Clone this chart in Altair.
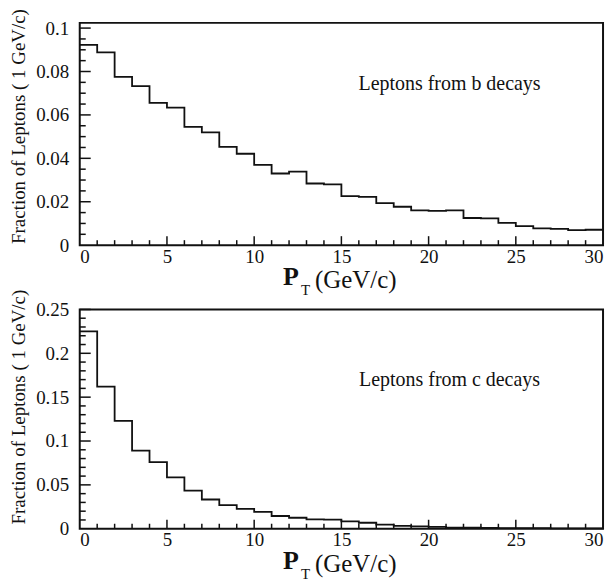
import altair as alt
import pandas as pd

# ---- data ----
pt_edges = list(range(0, 31))  # bin edges 0..30 GeV/c (1 GeV/c bins)

b_fraction = [0.0923, 0.0888, 0.0775, 0.0733, 0.0655, 0.0634, 0.0545, 0.0520,
              0.0453, 0.0421, 0.0370, 0.0330, 0.0339, 0.0284, 0.0280, 0.0226,
              0.0222, 0.0194, 0.0177, 0.0160, 0.0158, 0.0160, 0.0125, 0.0123,
              0.0103, 0.0088, 0.0077, 0.0075, 0.0069, 0.0071]

c_fraction = [0.225, 0.162, 0.123, 0.089, 0.076, 0.0586, 0.0435, 0.0333,
              0.0268, 0.0227, 0.0193, 0.0145, 0.0125, 0.0106, 0.0104, 0.0083,
              0.0068, 0.0047, 0.0033, 0.0026, 0.0022, 0.0013, 0.0011, 0.0009,
              0.0008, 0.0007, 0.0006, 0.0005, 0.0005, 0.0004]

x_major = [0, 5, 10, 15, 20, 25, 30]
x_minor = [v for v in range(1, 30) if v % 5 != 0]

b_y_major = [0, 0.02, 0.04, 0.06, 0.08, 0.1]
b_y_minor = [0.005, 0.01, 0.015, 0.025, 0.03, 0.035, 0.045, 0.05, 0.055,
             0.065, 0.07, 0.075, 0.085, 0.09, 0.095]
c_y_major = [0, 0.05, 0.1, 0.15, 0.2, 0.25]
c_y_minor = [0.01, 0.02, 0.03, 0.04, 0.06, 0.07, 0.08, 0.09, 0.11, 0.12,
             0.13, 0.14, 0.16, 0.17, 0.18, 0.19, 0.21, 0.22, 0.23, 0.24]

y_title = "Fraction of Leptons ( 1 GeV/c)"
x_title_main = "P"
x_title_sub = "T"
x_title_unit = "(GeV/c)"

SERIF = "'Liberation Serif', 'Times New Roman', Times, 'DejaVu Serif', serif"
INK = "#111111"
W = 525


def panel(values, ymax, ymaj, ymin, label, h, ytitle_y, label_y):
    df = pd.DataFrame({"pt": pt_edges, "frac": values + [values[-1]]})
    xs = alt.X("pt:Q", scale=alt.Scale(domain=[0, 30], nice=False, zero=False),
               axis=alt.Axis(values=x_major, format="d", ticks=False, domain=False,
                             grid=False, title=None, labelFont=SERIF, labelFontSize=19,
                             labelColor=INK, labelPadding=2))
    ys = alt.Y("frac:Q", scale=alt.Scale(domain=[0, ymax], nice=False),
               axis=alt.Axis(values=ymaj, format="~g", ticks=False, domain=False,
                             grid=False, title=None, labelFont=SERIF, labelFontSize=19,
                             labelColor=INK, labelPadding=11))
    line = alt.Chart(df).mark_line(interpolate="step-after", color=INK,
                                   strokeWidth=1.8).encode(x=xs, y=ys)

    xscale = alt.Scale(domain=[0, 30], nice=False, zero=False)
    yscale = alt.Scale(domain=[0, ymax], nice=False)

    def xticks(vals, ln):
        return alt.Chart(pd.DataFrame({"t": vals})).mark_rule(
            color=INK, strokeWidth=1.5).encode(
            x=alt.X("t:Q", scale=xscale), y=alt.value(h), y2=alt.value(h - ln))

    def yticks(vals, ln):
        return alt.Chart(pd.DataFrame({"t": vals})).mark_rule(
            color=INK, strokeWidth=1.5).encode(
            y=alt.Y("t:Q", scale=yscale), x=alt.value(0), x2=alt.value(ln))

    base = alt.Chart(pd.DataFrame({"a": [0]}))
    txt_label = base.mark_text(font=SERIF, fontSize=20, color=INK, align="center",
                               baseline="alphabetic").encode(
        x=alt.value(371), y=alt.value(label_y), text=alt.value(label))
    ytitle = base.mark_text(font=SERIF, fontSize=19, color=INK, align="center",
                            baseline="middle", angle=270).encode(
        x=alt.value(-61), y=alt.value(ytitle_y), text=alt.value(y_title))
    xt_p = base.mark_text(font=SERIF, fontSize=26, fontWeight="bold", color=INK,
                          align="left", baseline="alphabetic").encode(
        x=alt.value(204), y=alt.value(h + 40), text=alt.value(x_title_main))
    xt_t = base.mark_text(font=SERIF, fontSize=15, color=INK, align="left",
                          baseline="alphabetic").encode(
        x=alt.value(222), y=alt.value(h + 50), text=alt.value(x_title_sub))
    xt_u = base.mark_text(font=SERIF, fontSize=25, color=INK, align="left",
                          baseline="alphabetic").encode(
        x=alt.value(236), y=alt.value(h + 43), text=alt.value(x_title_unit))

    return alt.layer(
        line,
        xticks(x_major[1:-1], 9), xticks(x_minor, 5),
        yticks(ymaj[1:], 11), yticks(ymin, 6),
        txt_label, ytitle, xt_p, xt_t, xt_u,
    ).properties(width=W, height=h)


top = panel(b_fraction, 0.1024, b_y_major, b_y_minor, "Leptons from b decays",
            223, 104, 67.5)
bottom = panel(c_fraction, 0.25, c_y_major, c_y_minor, "Leptons from c decays",
               220, 98, 77)

chart = alt.vconcat(top, bottom, spacing=64.5, bounds="flush").properties(
    padding={"left": 8, "top": 7, "right": 5, "bottom": 0},
    background="white",
).configure_view(stroke=INK, strokeWidth=2)

chart.save("out.html", embed_options={"renderer": "svg", "actions": False})
